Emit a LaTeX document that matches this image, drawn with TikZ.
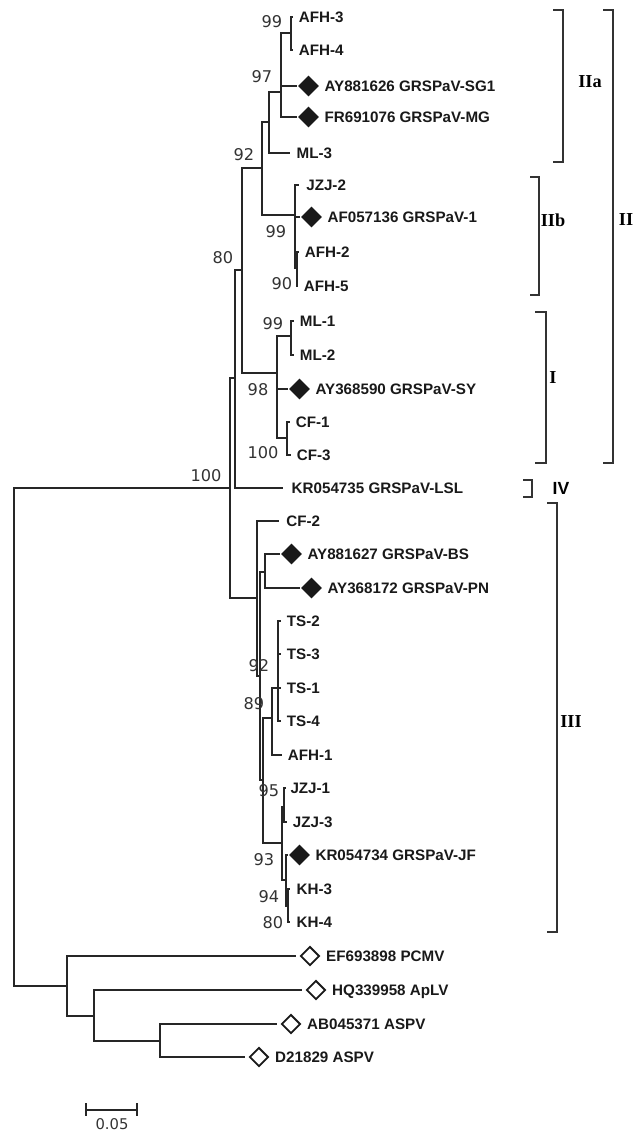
\documentclass[tikz,border=0pt]{standalone}
\usepackage{fontspec}
\setmainfont{Liberation Sans}
\newfontfamily\bootfam{DejaVu Sans}
\newfontfamily\romanfam{Liberation Serif}
\usetikzlibrary{positioning,shapes.geometric}
\newcommand{\leaffont}{\fontsize{10.8}{12}\selectfont\bfseries}
\newcommand{\bootfont}{\bootfam\fontsize{11.5}{13}\selectfont}
\newcommand{\cladefont}{\romanfam\fontsize{13}{15}\selectfont\bfseries}

\begin{document}
\begin{tikzpicture}[x=0.025cm, y=-0.025cm,
  br/.style={draw=black!85, line width=0.9pt},
  brk/.style={draw=black!80, line width=0.9pt},
  leaf/.style={font=\leaffont, text=black!90, inner sep=0pt,
               text height=7.7pt, text depth=0pt},
  boot/.style={font=\bootfont, text=black!80, inner sep=0pt,
               text height=8.4pt, text depth=0pt},
  fdia/.style={diamond, fill=black!90, inner sep=0pt, minimum size=15pt},
  odia/.style={diamond, draw=black!90, line width=1.3pt, inner sep=0pt,
               minimum size=13.5pt},
  clade/.style={font=\cladefont, inner sep=0pt},
]
\useasboundingbox (0,0) rectangle (634,1131);

% ---- Internal nodes ----
\coordinate (root) at (14,737);
\coordinate (nin) at (230,488);
\coordinate (nA) at (235,378);
\coordinate (n80) at (242,270);
\coordinate (n92) at (262,168);
\coordinate (n92a) at (269,122);
\coordinate (n97) at (281,92);
\coordinate (nAFH34) at (291,33);
\coordinate (nIIb) at (295,215);
\coordinate (nAFH25) at (297,268);
\coordinate (n98) at (277,373);
\coordinate (nML12) at (291,336);
\coordinate (nCF) at (287,438);
\coordinate (nIII) at (257,598);
\coordinate (nIIIa) at (260,676);
\coordinate (nBSPN) at (265,572);
\coordinate (n89) at (263,780);
\coordinate (nTSA) at (272,718);
\coordinate (nTS) at (278,688);
\coordinate (n93) at (282,843);
\coordinate (nJZJ) at (284,807);
\coordinate (nKR) at (286,880);
\coordinate (nKH) at (288,906);
\coordinate (nout) at (67,986);
\coordinate (nO2) at (94,1016);
\coordinate (nO3) at (160,1041);

% ---- Tips ----
\coordinate (tAFH3) at (293,17);
\coordinate (tAFH4) at (293,50);
\coordinate (tSG1) at (297,86);
\coordinate (tMG) at (297,117);
\coordinate (tML3) at (290,153);
\coordinate (tJZJ2) at (299,185);
\coordinate (tV1) at (300,217);
\coordinate (tAFH2) at (299,252);
\coordinate (tAFH5) at (298,286);
\coordinate (tML1) at (294,321);
\coordinate (tML2) at (294,355);
\coordinate (tSY) at (288,389);
\coordinate (tCF1) at (290,422);
\coordinate (tCF3) at (291,455);
\coordinate (tLSL) at (283,488);
\coordinate (tCF2) at (279,521);
\coordinate (tBS) at (280,554);
\coordinate (tPN) at (300,588);
\coordinate (tTS2) at (281,621);
\coordinate (tTS3) at (281,654);
\coordinate (tTS1) at (281,688);
\coordinate (tTS4) at (281,721);
\coordinate (tAFH1) at (282,755);
\coordinate (tJZJ1) at (286,788);
\coordinate (tJZJ3) at (287,822);
\coordinate (tJF) at (288,855);
\coordinate (tKH3) at (290,889);
\coordinate (tKH4) at (290,922);
\coordinate (tPCMV) at (296,956);
\coordinate (tApLV) at (302,990);
\coordinate (tASPV1) at (277,1024);
\coordinate (tASPV2) at (245,1057);

% ---- Branches ----
\draw[br] (root) |- (nin) (root) |- (nout);
\draw[br] (nin) |- (nA) (nin) |- (nIII);
\draw[br] (nA) |- (n80) (nA) |- (tLSL);
\draw[br] (n80) |- (n92) (n80) |- (n98);
\draw[br] (n92) |- (n92a) (n92) |- (nIIb);
\draw[br] (n92a) |- (n97) (n92a) |- (tML3);
\draw[br] (n97) |- (nAFH34) (n97) |- (tSG1) (n97) |- (tMG);
\draw[br] (nAFH34) |- (tAFH3) (nAFH34) |- (tAFH4);
\draw[br] (nIIb) |- (tJZJ2) (nIIb) |- (tV1) (nIIb) |- (nAFH25);
\draw[br] (nAFH25) |- (tAFH2) (nAFH25) |- (tAFH5);
\draw[br] (n98) |- (nML12) (n98) |- (tSY) (n98) |- (nCF);
\draw[br] (nML12) |- (tML1) (nML12) |- (tML2);
\draw[br] (nCF) |- (tCF1) (nCF) |- (tCF3);
\draw[br] (nIII) |- (tCF2) (nIII) |- (nIIIa);
\draw[br] (nIIIa) |- (nBSPN) (nIIIa) |- (n89);
\draw[br] (nBSPN) |- (tBS) (nBSPN) |- (tPN);
\draw[br] (n89) |- (nTSA) (n89) |- (n93);
\draw[br] (nTSA) |- (nTS) (nTSA) |- (tAFH1);
\draw[br] (nTS) |- (tTS2) (nTS) |- (tTS3) (nTS) |- (tTS1) (nTS) |- (tTS4);
\draw[br] (n93) |- (nJZJ) (n93) |- (nKR);
\draw[br] (nJZJ) |- (tJZJ1) (nJZJ) |- (tJZJ3);
\draw[br] (nKR) |- (tJF) (nKR) |- (nKH);
\draw[br] (nKH) |- (tKH3) (nKH) |- (tKH4);
\draw[br] (nout) |- (tPCMV) (nout) |- (nO2);
\draw[br] (nO2) |- (tApLV) (nO2) |- (nO3);
\draw[br] (nO3) |- (tASPV1) (nO3) |- (tASPV2);

% ---- Tip labels ----
\node[leaf, right=4pt of tAFH3] (lAFH3) {AFH-3};
\node[leaf, right=4pt of tAFH4] (lAFH4) {AFH-4};
\node[fdia, right=0.5pt of tSG1] (dSG1) {};
\node[leaf, right=3.5pt of dSG1] (lSG1) {AY881626 GRSPaV-SG1};
\node[fdia, right=0.5pt of tMG] (dMG) {};
\node[leaf, right=3.5pt of dMG] (lMG) {FR691076 GRSPaV-MG};
\node[leaf, right=4.5pt of tML3] (lML3) {ML-3};
\node[leaf, right=5pt of tJZJ2] (lJZJ2) {JZJ-2};
\node[fdia, right=0.5pt of tV1] (dV1) {};
\node[leaf, right=3.5pt of dV1] (lV1) {AF057136 GRSPaV-1};
\node[leaf, right=4pt of tAFH2] (lAFH2) {AFH-2};
\node[leaf, right=4pt of tAFH5] (lAFH5) {AFH-5};
\node[leaf, right=4pt of tML1] (lML1) {ML-1};
\node[leaf, right=4pt of tML2] (lML2) {ML-2};
\node[fdia, right=0.5pt of tSY] (dSY) {};
\node[leaf, right=3.5pt of dSY] (lSY) {AY368590 GRSPaV-SY};
\node[leaf, right=4pt of tCF1] (lCF1) {CF-1};
\node[leaf, right=4pt of tCF3] (lCF3) {CF-3};
\node[leaf, right=6pt of tLSL] (lLSL) {KR054735 GRSPaV-LSL};
\node[leaf, right=5pt of tCF2] (lCF2) {CF-2};
\node[fdia, right=0.5pt of tBS] (dBS) {};
\node[leaf, right=3.5pt of dBS] (lBS) {AY881627 GRSPaV-BS};
\node[fdia, right=0.5pt of tPN] (dPN) {};
\node[leaf, right=3.5pt of dPN] (lPN) {AY368172 GRSPaV-PN};
\node[leaf, right=4pt of tTS2] (lTS2) {TS-2};
\node[leaf, right=4pt of tTS3] (lTS3) {TS-3};
\node[leaf, right=4pt of tTS1] (lTS1) {TS-1};
\node[leaf, right=4pt of tTS4] (lTS4) {TS-4};
\node[leaf, right=4pt of tAFH1] (lAFH1) {AFH-1};
\node[leaf, right=3pt of tJZJ1] (lJZJ1) {JZJ-1};
\node[leaf, right=4pt of tJZJ3] (lJZJ3) {JZJ-3};
\node[fdia, right=0.5pt of tJF] (dJF) {};
\node[leaf, right=3.5pt of dJF] (lJF) {KR054734 GRSPaV-JF};
\node[leaf, right=4.5pt of tKH3] (lKH3) {KH-3};
\node[leaf, right=4.5pt of tKH4] (lKH4) {KH-4};
\node[odia, right=2.5pt of tPCMV] (dPCMV) {};
\node[leaf, right=4pt of dPCMV] (lPCMV) {EF693898 PCMV};
\node[odia, right=2.5pt of tApLV] (dApLV) {};
\node[leaf, right=4pt of dApLV] (lApLV) {HQ339958 ApLV};
\node[odia, right=2.5pt of tASPV1] (dASPV1) {};
\node[leaf, right=4pt of dASPV1] (lASPV1) {AB045371 ASPV};
\node[odia, right=2.5pt of tASPV2] (dASPV2) {};
\node[leaf, right=4pt of dASPV2] (lASPV2) {D21829 ASPV};

% ---- Bootstrap values ----
\node[boot] (b1) at (272,22) {99};
\node[boot] (b2) at (262,77) {97};
\node[boot] (b3) at (244,155) {92};
\node[boot] (b4) at (223,258) {80};
\node[boot] (b5) at (276,232) {99};
\node[boot] (b6) at (282,284) {90};
\node[boot] (b7) at (273,324) {99};
\node[boot] (b8) at (258,390) {98};
\node[boot] (b9) at (263,453) {100};
\node[boot] (b10) at (206,476) {100};
\node[boot] (b11) at (259,666) {92};
\node[boot] (b12) at (254,704) {89};
\node[boot] (b13) at (269,791) {95};
\node[boot] (b14) at (264,860) {93};
\node[boot] (b15) at (269,897) {94};
\node[boot] (b16) at (273,923) {80};

% ---- Clade brackets ----
\draw[brk] (553,10) -- (563,10) -- (563,162) -- (553,162);
\draw[brk] (530,177) -- (539,177) -- (539,295) -- (530,295);
\draw[brk] (603,10) -- (613,10) -- (613,463) -- (603,463);
\draw[brk] (535,312) -- (546,312) -- (546,463) -- (535,463);
\draw[brk] (523,480) -- (532,480) -- (532,497) -- (523,497);
\draw[brk] (547,503) -- (557,503) -- (557,932) -- (547,932);
\node[clade] (cIIa) at (590,82) {IIa};
\node[clade] (cIIb) at (553,220) {IIb};
\node[clade] (cII) at (626,220) {II};
\node[clade] (cI) at (553,378) {I};
\node[font=\fontsize{12.5}{14}\selectfont\bfseries, inner sep=0pt] (cIV) at (561,488) {IV};
\node[clade] (cIII) at (571,722) {III};

% ---- Scale bar ----
\coordinate (sbl) at (86,1110);
\coordinate (sbr) at (137,1110);
\draw[br] (sbl) -- (sbr);
\draw[br] (86,1103) -- (86,1116) (137,1103) -- (137,1116);
\node[font=\bootfam\fontsize{10.5}{12}\selectfont, text=black!80] (sblab) at (112,1124) {0.05};

\end{tikzpicture}
\end{document}
